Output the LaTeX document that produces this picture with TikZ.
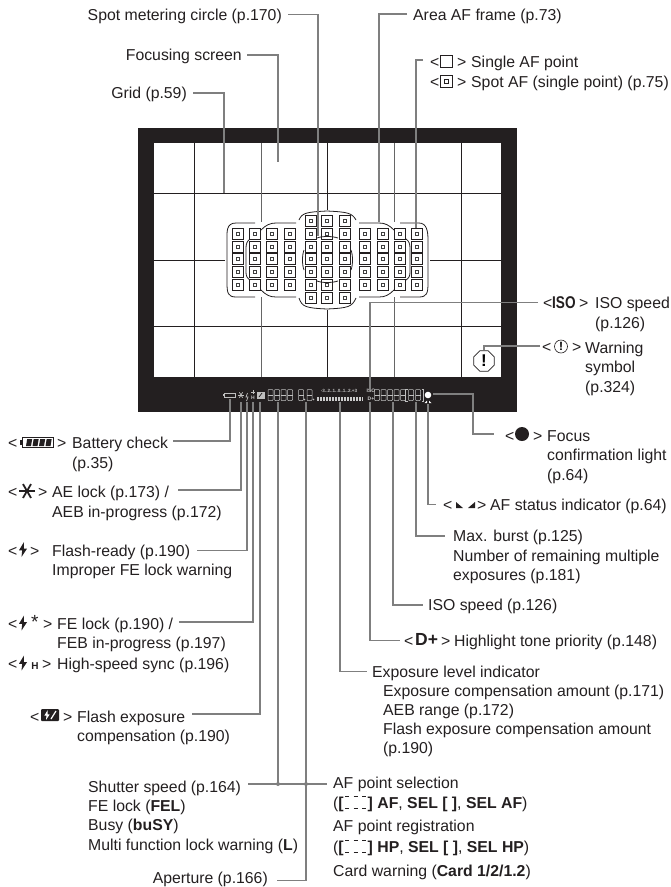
\documentclass[tikz,border=0pt]{standalone}
\usepackage{fontspec}
\setmainfont{Liberation Sans}
\usepackage{tikz}
\usetikzlibrary{positioning,shapes.geometric,calc}
\usepackage{xcolor}
\definecolor{frameblack}{HTML}{231F20}
\definecolor{leadgray}{HTML}{7F7F7F}
\tikzset{
  lbl/.style={anchor=west,inner sep=0pt,text height=11pt,text depth=0pt,font=\fontsize{15.8}{19}\selectfont,text=frameblack},
  lblr/.style={lbl,anchor=east},
  lead/.style={draw=leadgray,line width=1.1pt},
  gridline/.style={draw=frameblack,line width=0.8pt},
  gridgray/.style={draw=leadgray!80!black,line width=1pt},
  afframe/.style={draw=frameblack,line width=0.8pt},
  seg/.style={draw=white!75!black,line width=0.5pt,rounded corners=0.8pt},
  pics/afpt/.style={code={
    \draw[frameblack,line width=1.2pt] (-5.2,-5.2) rectangle (5.2,5.2);
    \draw[leadgray!50!black,line width=1.3pt] (-1.8,-1.8) rectangle (1.8,1.8);}},
  pics/digit/.style={code={
    \draw[seg] (-2.5,-5.5) rectangle (2.5,5.5);
    \draw[seg] (-2.5,0) -- (2.5,0);}},
  pics/bolt/.style={code={
    \fill (1,-7.5) -- (-4,0.8) -- (-0.8,0.8) -- (-1.5,7.5) -- (4,-0.8) -- (0.8,-0.8) -- cycle;}},
  pics/dashbar/.style={code={
    \foreach \x in {345,353.5,362}
      \draw[frameblack,line width=1.6pt] (\x,-6) -- (\x+4,-6) (\x,6) -- (\x+4,6);}},
}
\begin{document}
\begin{tikzpicture}[x=1pt,y=-1pt]
\useasboundingbox (0,0) rectangle (670,887);
% viewfinder
\fill[frameblack] (138,128) rectangle (517,412);
\fill[white] (154,143) rectangle (501,377);
\draw[gridline] (154,193) -- (501,193);
\draw[gridline] (154,326) -- (501,326);
\draw[gridline] (194,143) -- (194,377);
\draw[gridline] (461,143) -- (461,377);
\draw[gridline] (154,260) -- (225,260);
\draw[gridline] (430,260) -- (501,260);
\draw[gridline] (327,143) -- (327,210);
\draw[gridline] (327,310) -- (327,377);
\draw[gridgray] (261,143) -- (261,222);
\draw[gridgray] (261,297) -- (261,377);
\draw[gridgray] (394,143) -- (394,222);
\draw[gridgray] (394,297) -- (394,377);
% AF points
\foreach \x in {238,255,272,290,311,327,345,365,383,400,417}
  \foreach \y in {234,247,259,272,285}
    \pic at (\x,\y) {afpt};
\foreach \x in {311,327,345}
  \foreach \y in {221,298}
    \pic at (\x,\y) {afpt};
% area frames
\draw[afframe] (255,223) -- (236,223) .. controls (226,223) and (227,232) .. (227,240) -- (227,283) .. controls (227,293) and (228,297) .. (236,297) -- (255,297);
\draw[afframe] (261,230) .. controls (266,225) and (270,223) .. (276,223) -- (296,223);
\draw[afframe] (261,290) .. controls (266,295) and (270,297) .. (276,297) -- (296,297);
\draw[afframe] (250,239) .. controls (247,241) and (246,244) .. (246,248) -- (246,272) .. controls (246,276) and (247,278) .. (250,280);
\draw[afframe] (299,220) .. controls (302,213) and (306,212) .. (327,211) .. controls (348,212) and (352,213) .. (356,220);
\draw[afframe] (299,298) .. controls (302,307) and (306,308) .. (327,309) .. controls (348,308) and (352,307) .. (356,298);
\draw[afframe] (359,223) -- (379,223) .. controls (385,223) and (389,225) .. (394,230);
\draw[afframe] (359,297) -- (379,297) .. controls (385,297) and (389,295) .. (394,290);
\draw[afframe] (400,223) -- (419,223) .. controls (427,223) and (428,232) .. (428,240) -- (428,283) .. controls (428,293) and (427,297) .. (419,297) -- (400,297);
\draw[afframe] (406,239) .. controls (409,241) and (410,244) .. (410,248) -- (410,272) .. controls (410,276) and (409,278) .. (406,280);
% spot circle
\draw[afframe] (317,238) .. controls (322,236) and (332,236) .. (338,238);
\draw[afframe] (317,281) .. controls (322,283) and (332,283) .. (338,281);
\draw[afframe] (304,250) .. controls (302,255) and (302,265) .. (304,270);
\draw[afframe] (351,250) .. controls (353,255) and (353,265) .. (351,270);
% display
\node[inner sep=0pt,text=white!75!black,font=\fontsize{4.6}{5}\selectfont\bfseries] (scale) at (339,391) {-3..2..1..0..1..2.+3};
\node[inner sep=0pt,text=white!80!black,font=\fontsize{5}{5}\selectfont\bfseries] (isoSmall) at (371,391) {ISO};
\node[inner sep=0pt,text=white!80!black,font=\fontsize{5}{5}\selectfont\bfseries] (dSmall) at (371,399) {D+};
\foreach \x in {270.5,277,283.5,290,301,309.5,377,383.5,390,396.5,403,411,418}
  \pic at (\x,395) {digit};
\fill[white!75!black] (304.5,399.5) circle (0.8);
\fill[white!75!black] (313.5,399.5) circle (0.8);
\foreach \x in {317,318.5,...,362}
  \draw[white!80!black,line width=0.6pt] (\x,397) -- (\x,401);
\draw[white!75!black,line width=0.5pt] (407.5,389) -| (405.5,401) -- (407.5,401);
\draw[white!75!black,line width=0.5pt] (421.5,389) -| (423.5,401) -- (421.5,401);
\fill[white] (428,395) circle (3.3);
\fill[white] (424.5,403) -- (427,403) -- (427,400.5) -- cycle;
\fill[white] (431.5,403) -- (429,403) -- (429,400.5) -- cycle;
\draw[white!75!black,line width=0.6pt] (224,393) rectangle (235,397);
\fill[white!75!black] (222.5,394) rectangle (224,396);
\foreach \a in {0,60,120}
  \draw[white!75!black,line width=0.7pt] ($(241,395)+(\a:3.2)$) -- ($(241,395)+(\a+180:3.2)$);
\draw[white!75!black,line width=0.7pt] (247.5,393) -- (246,397) -- (248,397) -- (246.5,401);
\draw[white!75!black,line width=0.6pt] (251,392) -- (255,392) (253,390) -- (253,394);
\node[inner sep=0pt,text=white!75!black,font=\fontsize{5}{5}\selectfont\bfseries] (hSmall) at (253,398) {H};
\fill[white!75!black] (256.5,391.5) rectangle (264.5,398.5);
\draw[frameblack,line width=0.7pt] (259,397) -- (262,393);
% labels on top
\node[lblr] (spot) at (282,14.5) {Spot metering circle (p.170)};
\node[lblr] (focus) at (242,55) {Focusing screen};
\node[lblr] (grid) at (187,93) {Grid (p.59)};
\node[lbl] (area) at (413,15) {Area AF frame (p.73)};
\node[lbl] (singleL) at (430,61.5) {<};
\draw[frameblack,line width=0.7pt] (440,55) rectangle (452.5,67);
\node[lbl] (singleR) at (457,61.5) {>};
\node[lbl] (single) at (471,61.5) {Single AF point};
\node[lbl] (spotafL) at (430,81.5) {<};
\draw[frameblack,line width=0.7pt] (440,75) rectangle (452.5,87);
\draw[frameblack,line width=0.9pt] (444.5,79) rectangle (448,83);
\node[lbl] (spotafR) at (457,81.5) {>};
\node[lbl] (spotaf) at (471,81.5) {Spot AF (single point) (p.75)};
\coordinate (spotEnd) at (318,236);
\coordinate (focusEnd) at (278,162);
\coordinate (gridEnd) at (224,193);
\coordinate (areaEnd) at (379,222);
\coordinate (singleEnd) at (416,228);
\coordinate (singleTip) at (423,60);
\draw[lead] ([xshift=6pt]spot.east) -| (spotEnd);
\draw[lead] ([xshift=5pt]focus.east) -| (focusEnd);
\draw[lead] ([xshift=6pt]grid.east) -| (gridEnd);
\draw[lead] ([xshift=-6pt,yshift=1pt]area.west) -| (areaEnd);
\draw[lead] (singleTip) -| (singleEnd);
% labels on right
\node[lbl] (isoL) at (543,302.5) {<};
\node[lbl,xscale=0.8,font=\fontsize{17}{19}\selectfont\bfseries] (isoIcon) at (552,302.5) {ISO};
\node[lbl] (isoR) at (579,302.5) {>};
\node[lbl] (isoA) at (595,302.5) {ISO speed};
\node[lbl] (isoB) at (595,322.5) {(p.126)};
\node[lbl] (warnL) at (542,347) {<};
\draw[frameblack,line width=0.6pt] (561,346.5) circle (6.5);
\node[inner sep=0pt,font=\fontsize{12}{12}\selectfont\bfseries] (warnMark) at (561,346.5) {!};
\node[lbl] (warnR) at (572,347) {>};
\node[lbl] (warnA) at (585,347.5) {Warning};
\node[lbl] (warnB) at (585,366.5) {symbol};
\node[lbl] (warnC) at (585,386.5) {(p.324)};
\node[regular polygon,regular polygon sides=8,draw=frameblack,line width=0.8pt,inner sep=0pt,minimum size=22pt] (warnIcon) at (484,361) {};
\node[inner sep=0pt,font=\fontsize{17}{17}\selectfont\bfseries] (warnIconMark) at (484,361) {!};
\node[lbl] (focL) at (505,435.5) {<};
\fill[frameblack] (522,434) circle (7);
\node[lbl] (focR) at (533,435.5) {>};
\node[lbl] (focA) at (547,435.5) {Focus};
\node[lbl] (focB) at (547,454.5) {confirmation light};
\node[lbl] (focC) at (547,474.5) {(p.64)};
\node[lbl] (statL) at (443,504.5) {<};
\fill[frameblack] (456,508) -- (463,508) -- (456,502) -- cycle;
\fill[frameblack] (475,508) -- (468,508) -- (475,502) -- cycle;
\node[lbl] (statR) at (477,504.5) {>};
\node[lbl] (stat) at (490,504.5) {AF status indicator (p.64)};
\node[lbl] (burstA) at (453,536) {Max. burst (p.125)};
\node[lbl] (burstB) at (453,555.5) {Number of remaining multiple};
\node[lbl] (burstC) at (453,574.5) {exposures (p.181)};
\node[lbl] (isoval) at (428,605) {ISO speed (p.126)};
\node[lbl] (hlL) at (404,640.5) {<};
\node[lbl,font=\fontsize{17.5}{19}\selectfont\bfseries] (hlIcon) at (415,640) {D+};
\node[lbl] (hlR) at (441,640.5) {>};
\node[lbl] (hl) at (454,640.5) {Highlight tone priority (p.148)};
\node[lbl] (expA) at (372,671.5) {Exposure level indicator};
\node[lbl] (expB) at (383,690.5) {Exposure compensation amount (p.171)};
\node[lbl] (expC) at (383,709.5) {AEB range (p.172)};
\node[lbl] (expD) at (383,728.5) {Flash exposure compensation amount};
\node[lbl] (expE) at (383,747.5) {(p.190)};
\coordinate (isoTop) at (370,390);
\coordinate (warnTop) at (484,350);
\coordinate (focTop) at (433,394);
\coordinate (focCorner) at (473,394);
\coordinate (focEnd) at (494,434);
\coordinate (statTop) at (428,404);
\coordinate (burstTop) at (416,402);
\coordinate (isovalTop) at (393,402);
\coordinate (hlTop) at (370,402);
\coordinate (expTop) at (340,402);
\draw[lead] ([xshift=-5pt]isoL.west) -| (isoTop);
\draw[lead] ([xshift=-2pt,yshift=1pt]warnL.west) -| (warnTop);
\draw[lead] (focTop) -- (focCorner) |- (focEnd);
\draw[lead] (statTop) |- ([xshift=-7pt]statL.west);
\draw[lead] (burstTop) |- ([xshift=-8pt]burstA.west);
\draw[lead] (isovalTop) |- ([xshift=-5pt]isoval.west);
\draw[lead] (hlTop) |- ([xshift=-4pt]hlL.west);
\draw[lead] (expTop) |- ([xshift=-5pt]expA.west);
% labels on left
\node[lbl] (battL) at (8,442.5) {<};
\draw[frameblack,line width=1pt] (22,437.5) rectangle (53,447.5);
\fill[frameblack] (20,440) rectangle (22,445);
\foreach \x in {25,31.5,38,44.5}
  \fill[frameblack] (\x+1,446) -- (\x+6,446) -- (\x+7.2,439) -- (\x+2.2,439) -- cycle;
\node[lbl] (battR) at (57,442.5) {>};
\node[lbl] (battA) at (72,442.5) {Battery check};
\node[lbl] (battB) at (72,462.5) {(p.35)};
\node[lbl] (aeL) at (8,491.5) {<};
\foreach \a in {0,60,120}
  \draw[frameblack,line width=1.8pt] ($(27,491)+(\a:8)$) -- ($(27,491)+(\a+180:8)$);
\node[lbl] (aeR) at (38,491.5) {>};
\node[lbl] (aeA) at (52,491.5) {AE lock (p.173) /};
\node[lbl] (aeB) at (52,511.5) {AEB in-progress (p.172)};
\node[lbl] (flashL) at (8,550.5) {<};
\pic[frameblack] at (23,549.5) {bolt};
\node[lbl] (flashR) at (30,550.5) {>};
\node[lbl] (flashA) at (52,550.5) {Flash-ready (p.190)};
\node[lbl] (flashB) at (52,569.5) {Improper FE lock warning};
\node[lbl] (felL) at (8,623.5) {<};
\pic[frameblack] at (23,623) {bolt};
\node[lbl,font=\fontsize{19}{19}\selectfont] (felStar) at (31,623) {*};
\node[lbl] (felR) at (43,623.5) {>};
\node[lbl] (felA) at (57,623.5) {FE lock (p.190) /};
\node[lbl] (felB) at (57,642.5) {FEB in-progress (p.197)};
\node[lbl] (hssL) at (8,663.5) {<};
\pic[frameblack] at (23,663) {bolt};
\node[inner sep=0pt,font=\fontsize{10}{10}\selectfont\bfseries,text=frameblack] (hssH) at (35,666) {H};
\node[lbl] (hssR) at (42,663.5) {>};
\node[lbl] (hss) at (57,663.5) {High-speed sync (p.196)};
\node[lbl] (fecL) at (30,716.5) {<};
\fill[frameblack,rounded corners=1pt] (41,709) rectangle (59,721);
\pic[scale=0.65,white] at (47,715) {bolt};
\draw[white,line width=1.2pt] (51,719) -- (56,711);
\node[lbl] (fecR) at (63,716.5) {>};
\node[lbl] (fecA) at (77,716.5) {Flash exposure};
\node[lbl] (fecB) at (77,735.5) {compensation (p.190)};
\node[lbl] (shA) at (88,786.5) {Shutter speed (p.164)};
\node[lbl] (shB) at (88,805.5) {FE lock (\textbf{FEL})};
\node[lbl] (shC) at (88,824.5) {Busy (\textbf{buSY})};
\node[lbl] (shD) at (88,844.5) {Multi function lock warning (\textbf{L})};
\node[lblr] (aper) at (268,877.5) {Aperture (p.166)};
\node[lbl] (afA) at (333,782.5) {AF point selection};
\node[lbl] (afB) at (333,802.5) {(\textbf{[\hspace{24pt}] AF}, \textbf{SEL [ ]}, \textbf{SEL AF})};
\pic[shift={(0,802.5)}] {dashbar};
\node[lbl] (afC) at (333,825.5) {AF point registration};
\node[lbl] (afD) at (333,846.5) {(\textbf{[\hspace{24pt}] HP}, \textbf{SEL [ ]}, \textbf{SEL HP})};
\pic[shift={(0,846.5)}] {dashbar};
\node[lbl] (afE) at (333,870.5) {Card warning (\textbf{Card 1/2/1.2})};
\coordinate (battTop) at (230,399);
\coordinate (aeTop) at (241,402);
\coordinate (flashTop) at (247,402);
\coordinate (felTop) at (253,402);
\coordinate (fecTop) at (260,402);
\coordinate (shTop) at (278,402);
\coordinate (apTop) at (306,402);
\coordinate (shJoin) at (278,784);
\coordinate (apJoin) at (306,784);
\draw[lead] ([xshift=5pt,yshift=1.5pt]battA.east) -| (battTop);
\draw[lead] ([xshift=9pt,yshift=1.5pt]aeA.east) -| (aeTop);
\draw[lead] ([xshift=7pt]flashA.east) -| (flashTop);
\draw[lead] ([xshift=6pt,yshift=1.5pt]felA.east) -| (felTop);
\draw[lead] ([xshift=7pt,yshift=2.5pt]fecA.east) -| (fecTop);
\draw[lead] (shTop) -- (shJoin);
\draw[lead] (apTop) -- (apJoin);
\draw[lead] ([xshift=9pt,yshift=-3pt]aper.east) -| (apJoin);
\draw[lead] ([xshift=7pt]shA.east |- shJoin) -- ([xshift=-6pt]afA.west |- shJoin);
\fill[leadgray] (shJoin) circle (2);
\fill[leadgray] (apJoin) circle (2);
\end{tikzpicture}
\end{document}
